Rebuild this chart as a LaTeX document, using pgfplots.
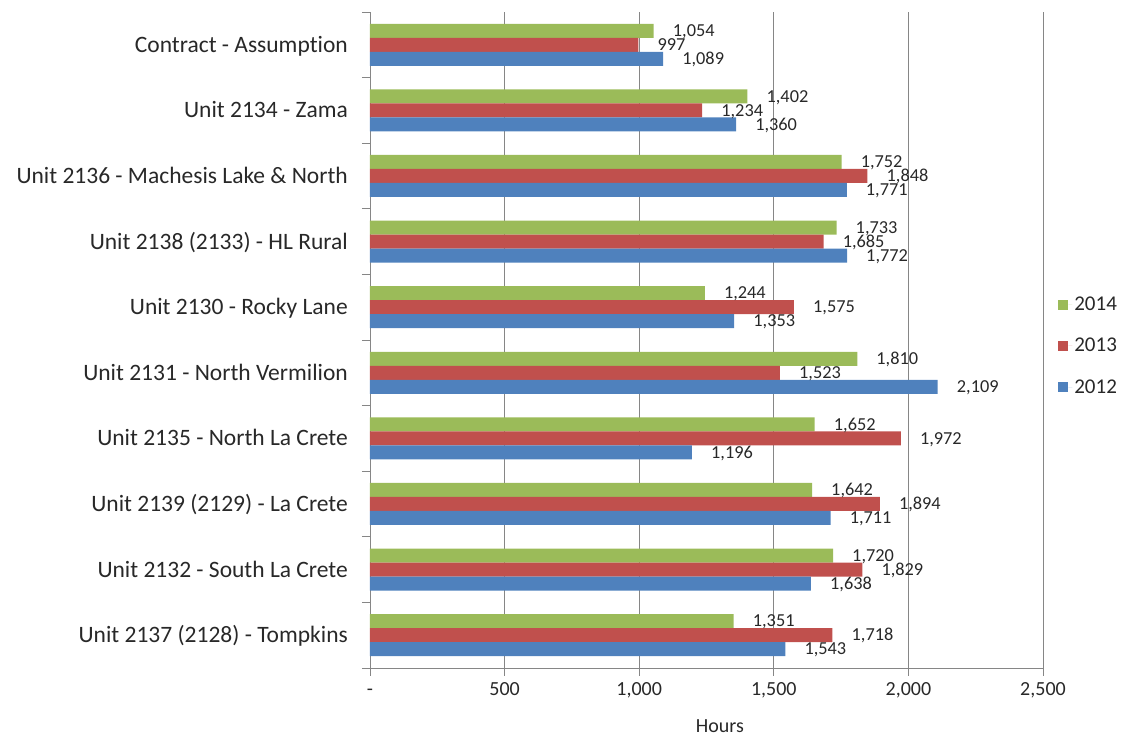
\documentclass[border=0pt]{standalone}
\usepackage{pgfplots}
\pgfplotsset{compat=1.18}
\usepackage{fontspec}
\setmainfont{Carlito}[Ligatures=NoCommon]
\definecolor{c14}{RGB}{155,187,89}
\definecolor{c13}{RGB}{192,80,77}
\definecolor{c12}{RGB}{79,129,189}
\definecolor{gridc}{RGB}{134,134,134}
\definecolor{txt}{RGB}{40,40,40}
\begin{document}
\begin{tikzpicture}
\useasboundingbox (-370pt,-70pt) rectangle (759pt,668pt);
\begin{axis}[
  at={(0pt,0pt)}, anchor=south west,
  scale only axis, width=673pt, height=656pt,
  xbar, bar width=14pt,
  xmin=0, xmax=2500, ymin=-0.5, ymax=9.5,
  xtick={0,500,...,2500},
  xticklabels={-,500,{1,000},{1,500},{2,000},{2,500}},
  ytick={0,...,9},
  yticklabels={Unit 2137 (2128) - Tompkins, Unit 2132 - South La Crete, Unit 2139 (2129) - La Crete, Unit 2135 - North La Crete, Unit 2131 - North Vermilion, Unit 2130 - Rocky Lane, Unit 2138 (2133) - HL Rural, Unit 2136 - Machesis Lake \& North, Unit 2134 - Zama, Contract - Assumption},
  minor xtick={0,500,...,2500},
  minor ytick={-0.5,0.5,...,9.5},
  major tick length=0pt, minor tick length=8pt,
  tick align=outside,
  axis x line*=bottom, axis y line*=left,
  xmajorgrids, grid style={gridc, line width=0.8pt},
  axis line style={gridc, line width=0.8pt, -},
  tick style={gridc, line width=0.8pt},
  /pgf/number format/assume math mode=true,
  xticklabel style={font=\fontsize{20}{24}\selectfont, text=txt, inner sep=0pt, anchor=base, yshift=-28pt},
  yticklabel style={font=\fontsize{23.5}{28}\selectfont, text=txt, inner sep=0pt, anchor=base east, xshift=-22pt, yshift=-7.6pt},
  xlabel={Hours},
  x label style={font=\fontsize{20}{24}\selectfont, text=txt, at={(axis description cs:0.52,0)}, anchor=base, yshift=-64pt},
  nodes near coords={\pgfmathprintnumber[fixed,1000 sep={,}]{\pgfplotspointmeta}},
  every node near coord/.append style={font=\fontsize{18.3}{22}\selectfont, text=txt, inner sep=0pt, anchor=base west, xshift=19pt, yshift=-5.8pt},
  legend style={at={(1.018,0.491)}, anchor=west, draw=none, fill=none, font=\fontsize{21}{25}\selectfont, text=txt, row sep=22pt, legend cell align=left},
  legend image code/.code={\fill[#1] (0pt,-5pt) rectangle (10pt,5pt); \path (10pt,0pt) -- (14pt,0pt);},
]
\addplot[fill=c14, draw=none, bar shift=14pt] coordinates {(1351,0) (1720,1) (1642,2) (1652,3) (1810,4) (1244,5) (1733,6) (1752,7) (1402,8) (1054,9)};
\addplot[fill=c13, draw=none, bar shift=0pt] coordinates {(1718,0) (1829,1) (1894,2) (1972,3) (1523,4) (1575,5) (1685,6) (1848,7) (1234,8) (997,9)};
\addplot[fill=c12, draw=none, bar shift=-14pt] coordinates {(1543,0) (1638,1) (1711,2) (1196,3) (2109,4) (1353,5) (1772,6) (1771,7) (1360,8) (1089,9)};
\legend{2014,2013,2012}
\end{axis}
\end{tikzpicture}
\end{document}
